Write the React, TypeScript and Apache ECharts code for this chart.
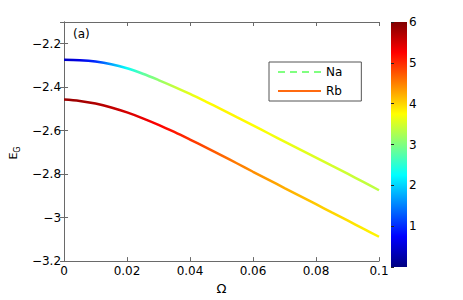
import React, { useEffect, useRef } from 'react';
import * as echarts from 'echarts';

const omega = [0, 0.005, 0.01, 0.015, 0.02, 0.025, 0.03, 0.035, 0.04, 0.045, 0.05, 0.055, 0.06, 0.065, 0.07, 0.075, 0.08, 0.085, 0.09, 0.095, 0.1];
const naEnergy = [-2.274, -2.276, -2.282, -2.294, -2.313, -2.338, -2.367, -2.398, -2.431, -2.466, -2.502, -2.539, -2.576, -2.613, -2.650, -2.687, -2.724, -2.761, -2.798, -2.836, -2.874];
const rbEnergy = [-2.457, -2.463, -2.475, -2.493, -2.516, -2.543, -2.573, -2.606, -2.641, -2.677, -2.714, -2.751, -2.789, -2.826, -2.864, -2.901, -2.938, -2.976, -3.013, -3.051, -3.088];
const naColorValue = [0.4, 0.6, 1.0, 1.7, 2.3, 2.8, 3.1, 3.4, 3.6, 3.75, 3.8, 3.8, 3.75, 3.7, 3.65, 3.6, 3.55, 3.5, 3.45, 3.4, 3.35];
const rbColorValue = [5.85, 5.8, 5.72, 5.62, 5.5, 5.38, 5.25, 5.12, 4.95, 4.8, 4.65, 4.52, 4.42, 4.32, 4.23, 4.15, 4.07, 4.0, 3.93, 3.86, 3.8];
const seriesNames = ['Na', 'Rb'];
const legendColors = ['#80ff80', '#ff6a10'];
const colorbarMin = 0;
const colorbarMax = 6;
const colorbarStops = [0, 0.75, 2.25, 3.75, 5.25, 6];
const omegaMin = 0;
const omegaMax = 0.1;
const energyMin = -3.2;
const energyMax = -2.1;

const FONT = '"DejaVu Sans", "Liberation Sans", Arial, sans-serif';

function clamp01(v: number) {
  return Math.max(0, Math.min(1, v));
}

function jet(v: number, min: number, max: number) {
  const t = clamp01((v - min) / (max - min));
  const r = clamp01(1.5 - Math.abs(4 * t - 3));
  const g = clamp01(1.5 - Math.abs(4 * t - 2));
  const b = clamp01(1.5 - Math.abs(4 * t - 1));
  return `rgb(${Math.round(r * 255)},${Math.round(g * 255)},${Math.round(b * 255)})`;
}

function lineGradient(values: number[]) {
  return new echarts.graphic.LinearGradient(
    0, 0, 1, 0,
    omega.map((w, i) => ({
      offset: (w - omegaMin) / (omegaMax - omegaMin),
      color: jet(values[i], colorbarMin, colorbarMax),
    }))
  );
}

const axisGray = '#6a6a6a';

export default function App() {
  const ref = useRef<HTMLDivElement>(null);
  useEffect(() => {
    if (!ref.current) return;
    const chart = echarts.init(ref.current, null, { renderer: 'svg' });
    const boxAxisCommon = {
      axisLine: { show: true, lineStyle: { color: axisGray, width: 1 } },
      axisTick: { show: true, inside: true, length: 4, lineStyle: { color: axisGray } },
      splitLine: { show: false },
    };
    chart.setOption({
      animation: false,
      textStyle: { fontFamily: FONT },
      grid: [
        { left: 60, top: 22, width: 319, height: 245 },
        { left: 391, top: 22, width: 16, height: 245 },
      ],
      xAxis: [
        {
          gridIndex: 0, type: 'value', min: omegaMin, max: omegaMax, interval: 0.02, position: 'bottom',
          ...boxAxisCommon,
          axisLabel: {
            color: '#000', fontSize: 12, margin: 4, fontFamily: FONT,
            formatter: (v: number) => String(Number(v.toFixed(2))),
          },
          name: 'Ω', nameLocation: 'middle', nameGap: 15,
          nameTextStyle: { color: '#000', fontSize: 13, fontFamily: FONT },
        },
        {
          gridIndex: 0, type: 'value', min: omegaMin, max: omegaMax, interval: 0.02, position: 'top',
          ...boxAxisCommon,
          axisLabel: { show: false },
        },
        { gridIndex: 1, type: 'category', data: [''], show: false },
      ],
      yAxis: [
        {
          gridIndex: 0, type: 'value', min: energyMin, max: energyMax, interval: 0.2, position: 'left',
          ...boxAxisCommon,
          axisLabel: {
            color: '#000', fontSize: 12, margin: 3, fontFamily: FONT, showMaxLabel: false,
            formatter: (v: number) => String(Number(v.toFixed(1))).replace('-', '\u2212'),
          },
          name: '{e|E}{g|G}', nameLocation: 'middle', nameGap: 31, nameRotate: 90,
          nameTextStyle: {
            color: '#000', fontFamily: FONT, padding: [0, 23, 0, 0],
            rich: {
              e: { fontSize: 11, color: '#000', fontFamily: FONT, verticalAlign: 'top' },
              g: { fontSize: 8, color: '#000', fontFamily: FONT, verticalAlign: 'bottom', padding: [5, 0, 0, 0] },
            },
          },
        },
        {
          gridIndex: 0, type: 'value', min: energyMin, max: energyMax, interval: 0.2, position: 'right',
          ...boxAxisCommon,
          axisLabel: { show: false },
        },
        {
          gridIndex: 1, type: 'value', min: colorbarMin, max: colorbarMax, interval: 1, position: 'right', z: 10,
          axisLine: { show: false },
          axisTick: { show: false },
          splitLine: { show: false },
          axisLabel: {
            color: '#000', fontSize: 12, margin: 2, fontFamily: FONT,
            formatter: (v: number) => (v === 0 ? '' : String(v)),
          },
        },
        {
          gridIndex: 1, type: 'value', min: colorbarMin, max: colorbarMax, interval: 1, position: 'left', z: 10,
          axisLine: { show: false },
          axisTick: { show: true, inside: true, length: 3, lineStyle: { color: '#222' } },
          splitLine: { show: false },
          axisLabel: { show: false },
        },
      ],
      legend: {
        left: 269, top: 62, orient: 'vertical',
        itemWidth: 43, itemHeight: 14, itemGap: 7,
        padding: [4, 19, 4, 8],
        backgroundColor: '#fff', borderColor: '#555', borderWidth: 1,
        textStyle: { color: '#000', fontSize: 12, fontFamily: FONT },
        data: [
          {
            name: seriesNames[0],
            lineStyle: { color: legendColors[0], width: 2, type: [7, 5] },
            itemStyle: { color: 'rgba(0,0,0,0)', borderWidth: 0, opacity: 0 },
          },
          {
            name: seriesNames[1],
            lineStyle: { color: legendColors[1], width: 2, type: 'solid' },
            itemStyle: { color: 'rgba(0,0,0,0)', borderWidth: 0, opacity: 0 },
          },
        ],
      },
      series: [
        {
          name: seriesNames[0], type: 'line', xAxisIndex: 0, yAxisIndex: 0,
          data: omega.map((w, i) => [w, naEnergy[i]]),
          symbol: 'none', showSymbol: false, smooth: 0.35,
          lineStyle: { width: 2.5, color: lineGradient(naColorValue) },
        },
        {
          name: seriesNames[1], type: 'line', xAxisIndex: 0, yAxisIndex: 0,
          data: omega.map((w, i) => [w, rbEnergy[i]]),
          symbol: 'none', showSymbol: false, smooth: 0.35,
          lineStyle: { width: 2.5, color: lineGradient(rbColorValue) },
        },
        {
          type: 'bar', xAxisIndex: 2, yAxisIndex: 2, data: [colorbarMax], barWidth: '100%', silent: true, z: 1,
          itemStyle: {
            color: new echarts.graphic.LinearGradient(
              0, 1, 0, 0,
              colorbarStops.map((c) => ({
                offset: (c - colorbarMin) / (colorbarMax - colorbarMin),
                color: jet(c, colorbarMin, colorbarMax),
              }))
            ),
          },
        },
      ],
      graphic: [
        {
          type: 'text', left: 73, top: 28,
          style: { text: '(a)', fontSize: 12, fill: '#000', fontFamily: FONT },
        },
      ],
    });
    return () => chart.dispose();
  }, []);
  return <div ref={ref} style={{ position: 'absolute', left: 0, top: 0, width: 463, height: 300 }} />;
}
